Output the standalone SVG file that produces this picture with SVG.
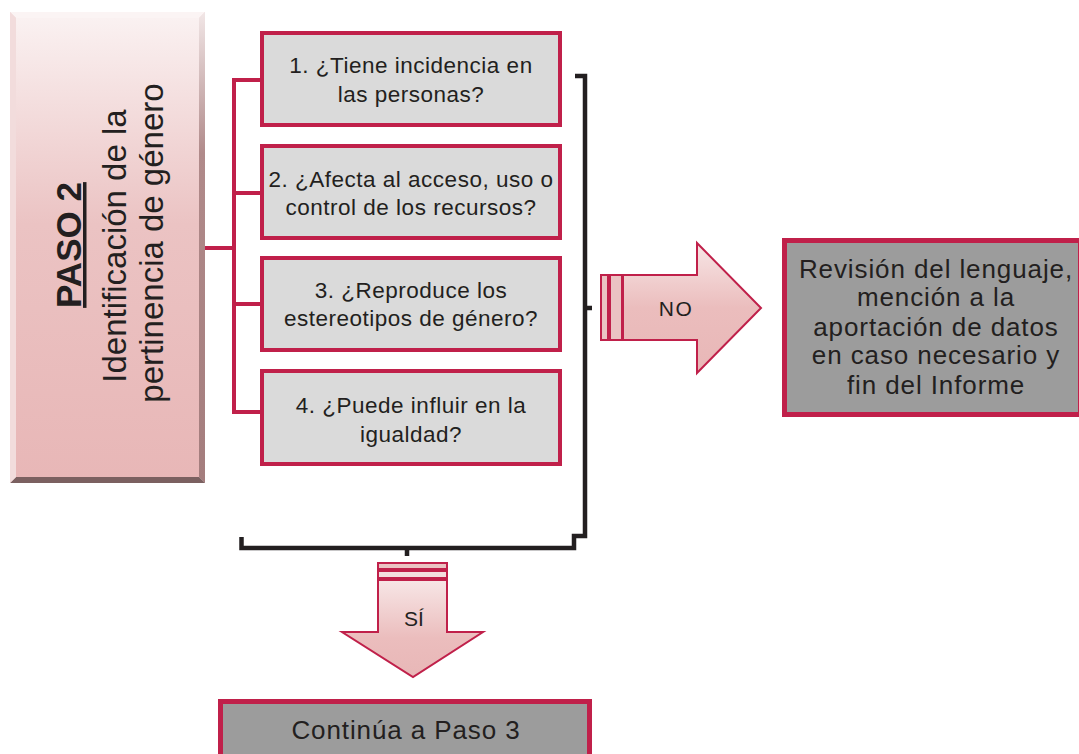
<svg xmlns="http://www.w3.org/2000/svg" width="1079" height="754" viewBox="0 0 1079 754">
<defs>
<linearGradient id="face" x1="0" y1="0" x2="0" y2="1">
<stop offset="0" stop-color="#faf1f1"/>
<stop offset="0.45" stop-color="#ebc3c3"/>
<stop offset="1" stop-color="#e8b7b7"/>
</linearGradient>
<linearGradient id="rbev" x1="0" y1="0" x2="0" y2="1">
<stop offset="0" stop-color="#f1e6e6"/>
<stop offset="0.3" stop-color="#b08a8a"/>
<stop offset="1" stop-color="#a47d7d"/>
</linearGradient>
<linearGradient id="arrowH" x1="0" y1="0" x2="0" y2="1">
<stop offset="0" stop-color="#f7e6e6"/>
<stop offset="0.5" stop-color="#ebbdbd"/>
<stop offset="1" stop-color="#e8b7b7"/>
</linearGradient>
<linearGradient id="arrowV" x1="0" y1="0" x2="0" y2="1">
<stop offset="0" stop-color="#f7e6e6"/>
<stop offset="0.6" stop-color="#ebbdbd"/>
<stop offset="1" stop-color="#e8b7b7"/>
</linearGradient>
</defs>
<style>
.q{fill:#dadada;stroke:#c0204a;stroke-width:4}
.g{fill:#9c9c9c;stroke:#c0204a;stroke-width:5}
.t{font-family:"Liberation Sans",Arial,sans-serif;fill:#231f20;text-anchor:middle}
.qt{font-size:22.5px;letter-spacing:0.5px}
.bt{font-size:26px;letter-spacing:0.9px}
.arr{stroke:#c0204a;stroke-width:2}
.red{fill:none;stroke:#c0204a;stroke-width:4}
.blk{fill:none;stroke:#231f20;stroke-width:4.5;stroke-linejoin:miter;stroke-linecap:butt}
</style>
<rect width="1079" height="754" fill="#ffffff"/>

<g id="paso2">
<rect x="10" y="12" width="195" height="471" fill="#f3dede"/>
<polygon points="10,12 205,12 199,18 16,18" fill="#fbf4f4"/>
<polygon points="205,12 205,483 199,477 199,18" fill="url(#rbev)"/>
<polygon points="10,483 205,483 199,477 16,477" fill="#7b6060"/>
<polygon points="10,12 16,18 16,477 10,483" fill="#f2dcdc"/>
<rect x="16" y="18" width="183" height="459" fill="url(#face)"/>
<text class="t" transform="translate(81,245) rotate(-90)" font-size="35" font-weight="bold" text-decoration="underline">PASO 2</text>
<text class="t" transform="translate(126,246) rotate(-90)" font-size="33">Identificación de la</text>
<text class="t" transform="translate(163,243) rotate(-90)" font-size="33">pertinencia de género</text>
</g>

<g id="connectors">
<path class="red" d="M205,248 H234 M234,78 V414 M232,80 H262 M232,193 H262 M232,304 H262 M232,412 H262"/>
<path class="blk" d="M575,76 H585 V536 H574 V548 H241.5 V537"/>
<path class="blk" d="M407,548 V556 M585,308 H592"/>
</g>

<g id="q1">
<rect class="q" x="262" y="33" width="298" height="92"/>
<text class="t qt" x="411" y="73">1. ¿Tiene incidencia en</text>
<text class="t qt" x="411" y="102">las personas?</text>
</g>
<g id="q2">
<rect class="q" x="262" y="146" width="298" height="92"/>
<text class="t qt" x="411" y="187">2. ¿Afecta al acceso, uso o</text>
<text class="t qt" x="411" y="215">control de los recursos?</text>
</g>
<g id="q3">
<rect class="q" x="262" y="258" width="298" height="92"/>
<text class="t qt" x="411" y="298">3. ¿Reproduce los</text>
<text class="t qt" x="411" y="326">estereotipos de género?</text>
</g>
<g id="q4">
<rect class="q" x="262" y="371" width="298" height="93"/>
<text class="t qt" x="411" y="413">4. ¿Puede influir en la</text>
<text class="t qt" x="411" y="442">igualdad?</text>
</g>

<g id="arrow-no">
<rect class="arr" x="601" y="275" width="7" height="65" fill="#ebc3c3"/>
<rect class="arr" x="610" y="275" width="12" height="65" fill="#ebc3c3"/>
<polygon class="arr" points="623,275 697,275 697,243 761,308 697,373 697,340 623,340" fill="url(#arrowH)"/>
<text class="t" x="676" y="316" font-size="21" letter-spacing="1.5">NO</text>
</g>

<g id="fin">
<rect class="g" x="784.5" y="240.5" width="296" height="174"/>
<text class="t bt" x="936" y="278">Revisión del lenguaje,</text>
<text class="t bt" x="936" y="306">mención a la</text>
<text class="t bt" x="936" y="336">aportación de datos</text>
<text class="t bt" x="936" y="364">en caso necesario y</text>
<text class="t bt" x="936" y="394">fin del Informe</text>
</g>

<g id="arrow-si">
<rect class="arr" x="378" y="563" width="69" height="6" fill="#ebc3c3"/>
<rect class="arr" x="378" y="571" width="69" height="7" fill="#f3dede"/>
<polygon class="arr" points="378,580 447,580 447,632 483,632 413,677 342,632 378,632" fill="url(#arrowV)"/>
<text class="t" x="414" y="626" font-size="21">SÍ</text>
</g>

<g id="paso3">
<rect class="g" x="220.5" y="701.5" width="369" height="60"/>
<text class="t bt" x="406" y="739">Continúa a Paso 3</text>
</g>
</svg>
